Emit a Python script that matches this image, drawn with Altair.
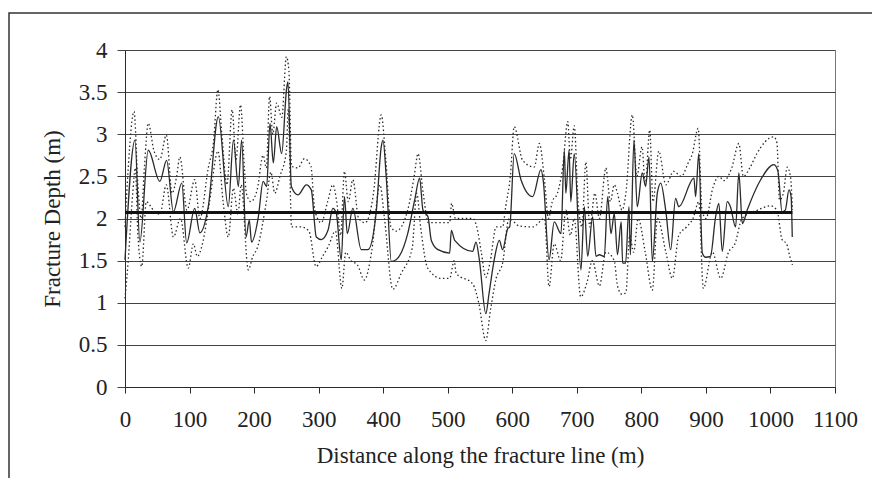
import altair as alt
import pandas as pd

# Mean fracture depth (solid line)
solid_x = [0, 15.5, 23, 36, 54, 64.5, 75, 88, 95.5, 108, 116, 129, 144.6, 160, 168, 175.6, 180.7, 187.5, 192.6, 196,
           206.6, 214, 219.5, 224.6, 229.8, 235, 242.7, 250.5, 252.5, 257.7, 268, 281, 288.6, 296.4, 304, 314.5, 322,
           327.4, 335, 340, 344.4, 353, 366, 376.5, 389, 397, 399.7, 405, 412.6, 420, 438, 448.8, 456.5, 461.6, 469.4,
           474.6, 485, 503, 505.6, 510.8, 538.6, 543.8, 549, 559, 564, 572, 580, 585, 593, 596, 603, 613.5, 631.6,
           644.5, 648, 657, 665, 675.5, 680.6, 683, 688, 690.7, 696, 706.4, 711.6, 716.8, 724.5, 729.7, 734.8, 742.6,
           747.8, 753, 758, 763, 768.7, 771, 775.6, 780.8, 783, 788.5, 793.6, 801.4, 806.6, 811.8, 817, 824.7, 830,
           837.7, 845.4, 853, 858, 881.5, 884, 889, 894.4, 899.6, 907, 915, 920, 925.4, 933, 938, 946, 951, 956.5, 964,
           984.8, 1005.4, 1011.6, 1018, 1023, 1028.7, 1032, 1033.8]
solid_y = [1.51, 2.93, 1.72, 2.81, 2.44, 2.69, 2.08, 2.42, 1.71, 2.12, 1.83, 2.14, 3.21, 2.14, 2.93, 2.38, 2.93, 1.78,
           1.98, 1.72, 2.02, 2.44, 2.38, 3.13, 2.66, 3.09, 2.77, 3.55, 3.62, 2.38, 2.28, 2.40, 2.34, 1.78, 1.75, 1.86,
           2.12, 2.06, 1.51, 2.26, 1.82, 2.12, 1.63, 1.63, 2.06, 2.85, 2.93, 2.46, 1.49, 1.51, 1.82, 2.22, 2.48, 2.10,
           2.02, 1.74, 1.63, 1.59, 1.86, 1.74, 1.61, 1.72, 1.51, 0.87, 1.11, 1.51, 1.74, 1.63, 1.88, 1.90, 2.77, 2.46,
           2.26, 2.58, 2.45, 1.51, 1.96, 1.82, 2.81, 2.30, 2.81, 2.20, 2.77, 1.39, 2.14, 1.55, 2.02, 1.55, 1.57, 1.55,
           2.26, 1.82, 2.06, 1.57, 1.96, 1.47, 1.47, 2.14, 1.57, 2.93, 2.14, 2.54, 2.38, 2.73, 1.49, 2.30, 2.42, 2.10,
           1.63, 2.24, 2.14, 2.48, 2.26, 2.77, 1.59, 1.54, 1.55, 2.02, 2.18, 1.61, 2.20, 2.14, 1.90, 2.54, 1.94, 2.10,
           2.46, 2.64, 2.56, 2.08, 2.10, 2.34, 2.26, 1.78]

# Upper bound (dotted)
upper_x = [0, 5, 14, 20, 25, 30, 36, 45, 54, 64, 73, 80, 85, 96, 108, 116, 129, 137, 144, 150, 158, 166, 172, 179, 185,
           188, 195, 205, 214, 219, 224, 229, 235, 243, 250, 254, 258, 268, 278, 288, 294, 304, 314, 322, 328, 334, 340,
           346, 353, 362, 372, 385, 397, 404, 412, 420, 438, 448, 454, 462, 470, 485, 503, 506, 512, 539, 545, 552, 559,
           566, 575, 585, 590, 597, 603, 616, 634, 642, 650, 656, 662, 670, 678, 686, 690, 696, 702, 708, 714, 720, 728,
           735, 745, 752, 758, 763, 770, 776, 786, 793, 801, 806, 813, 818, 827, 838, 850, 862, 872, 879, 888, 894, 900,
           911, 920, 928, 940, 951, 958, 968, 979, 1005, 1010, 1014, 1020, 1026, 1031, 1034]
upper_y = [1.9, 2.6, 3.27, 2.4, 2.0, 2.6, 3.13, 2.8, 2.7, 2.99, 2.3, 2.5, 2.73, 2.1, 2.46, 2.0, 2.6, 2.9, 3.53, 3.0,
           2.4, 3.29, 2.7, 3.35, 2.6, 2.3, 2.2, 2.35, 2.75, 2.6, 3.45, 3.0, 3.37, 3.2, 3.92, 3.75, 2.62, 2.6, 2.71, 2.62,
           2.1, 1.95, 2.2, 2.4, 2.2, 1.8, 2.56, 2.2, 2.46, 2.0, 1.95, 2.3, 3.23, 2.7, 1.9, 1.85, 2.1, 2.5, 2.77, 2.3,
           1.95, 1.95, 1.95, 2.18, 2.0, 2.0, 1.9, 1.6, 1.3, 1.5, 1.9, 1.9, 2.15, 2.5, 3.09, 2.69, 2.61, 2.89, 2.45, 2.0,
           2.2, 2.3, 2.6, 3.15, 2.7, 3.1, 2.2, 1.9, 2.67, 1.9, 2.3, 2.0, 2.6, 2.2, 2.4, 2.3, 2.1, 2.3, 3.23, 2.5, 2.85,
           2.4, 3.05, 2.2, 2.8, 2.4, 2.56, 2.5, 2.65, 2.77, 3.07, 2.1, 2.0, 2.37, 2.5, 2.45, 2.6, 2.89, 2.5, 2.6, 2.77,
           2.97, 2.9, 2.22, 2.3, 2.61, 2.5, 2.1]

# Lower bound (dotted)
lower_x = [0, 5, 12, 16, 20, 26, 33, 44, 54, 64, 75, 86, 98, 106, 112, 120, 131, 144, 152, 160, 168, 175, 180, 191,
           198, 205, 219, 226, 232, 240, 250, 253, 258, 273, 285, 296, 306, 315, 326, 336, 342, 350, 360, 371, 382, 395,
           402, 415, 428, 445, 452, 458, 469, 490, 503, 510, 513, 539, 548, 559, 566, 575, 585, 595, 611, 632, 650, 657,
           665, 675, 683, 690, 696, 706, 716, 724, 735, 745, 758, 763, 770, 776, 782, 788, 795, 806, 817, 825, 838, 848,
           858, 870, 880, 889, 896, 910, 923, 935, 945, 956, 980, 1000, 1010, 1018, 1025, 1030, 1034]
lower_y = [1.05, 1.5, 2.3, 2.6, 1.8, 1.43, 2.2, 2.1, 2.05, 2.4, 1.78, 2.0, 1.41, 1.7, 1.55, 1.7, 2.2, 2.8, 2.2, 1.78,
           2.36, 2.05, 2.4, 1.39, 1.55, 1.65, 2.2, 2.55, 2.3, 2.5, 2.8, 3.3, 1.9, 1.9, 1.85, 1.43, 1.55, 1.67, 1.85,
           1.17, 1.6, 1.5, 1.45, 1.27, 1.6, 2.4, 2.0, 1.16, 1.35, 1.65, 2.3, 1.9, 1.41, 1.29, 1.29, 1.5, 1.35, 1.22,
           1.0, 0.55, 0.9, 1.29, 1.47, 2.0, 1.91, 1.9, 2.0, 1.19, 1.7, 1.5, 2.1, 1.8, 2.0, 1.07, 1.25, 1.5, 1.2, 1.6,
           1.5, 1.2, 1.1, 1.12, 1.8, 1.6, 2.0, 1.6, 1.15, 2.0, 1.6, 1.29, 1.8, 1.9, 2.0, 2.2, 1.17, 1.6, 1.29, 1.6, 1.7,
           2.0, 2.1, 2.15, 2.1, 1.75, 1.7, 1.55, 1.45]

# Overall mean depth (thick horizontal line)
mean_depth = [2.07]
mean_start = [0]
mean_end = [1034]

x_ticks = list(range(0, 1101, 100))
y_ticks = [0, 0.5, 1, 1.5, 2, 2.5, 3, 3.5, 4]

FONT = "Liberation Serif"
INK = "#2a2a2a"

solid_df = pd.DataFrame({"x": solid_x, "y": solid_y})
upper_df = pd.DataFrame({"x": upper_x, "y": upper_y})
lower_df = pd.DataFrame({"x": lower_x, "y": lower_y})
mean_df = pd.DataFrame({"x": mean_start, "x2": mean_end, "y": mean_depth})

xs = alt.Scale(domain=[0, 1100], nice=False, zero=False)
ys = alt.Scale(domain=[0, 4], nice=False, zero=False)

x_axis = alt.Axis(values=x_ticks, format="d", labelOverlap=False, labelFlush=False, grid=False, domain=True,
                  domainColor=INK, ticks=True, tickSize=6, tickColor=INK, labelFont=FONT, labelFontSize=23,
                  labelColor="#222", labelPadding=15, title="Distance along the fracture line (m)", titleFont=FONT,
                  titleFontSize=23, titleFontWeight="normal", titleColor="#222", titlePadding=13)
y_axis = alt.Axis(values=y_ticks, format="~g", labelOverlap=False, labelFlush=False, grid=True, gridColor="#444",
                  gridWidth=1, domain=True, domainColor=INK, ticks=True, tickSize=8, tickColor="#444",
                  labelFont=FONT, labelFontSize=23, labelColor="#222", labelPadding=10,
                  title="Fracture Depth (m)", titleFont=FONT, titleFontSize=23, titleFontWeight="normal",
                  titleColor="#222", titlePadding=14)

upper = alt.Chart(upper_df).mark_line(interpolate="monotone", color=INK, strokeWidth=1.3,
                                      strokeDash=[1.5, 2.5]).encode(
    x=alt.X("x:Q", scale=xs, axis=x_axis), y=alt.Y("y:Q", scale=ys, axis=y_axis))
lower = alt.Chart(lower_df).mark_line(interpolate="monotone", color=INK, strokeWidth=1.3,
                                      strokeDash=[1.5, 2.5]).encode(
    x=alt.X("x:Q", scale=xs), y=alt.Y("y:Q", scale=ys))
solid = alt.Chart(solid_df).mark_line(interpolate="monotone", color=INK, strokeWidth=1.3).encode(
    x=alt.X("x:Q", scale=xs), y=alt.Y("y:Q", scale=ys))
mean = alt.Chart(mean_df).mark_rule(color="#111", strokeWidth=3).encode(
    x=alt.X("x:Q", scale=xs), x2="x2:Q", y=alt.Y("y:Q", scale=ys))
frame = alt.Chart(alt.Data(values=[{"a": 1}])).mark_rect(
    fillOpacity=0, stroke="#333", strokeWidth=1.5).encode(
    x=alt.value(-116), x2=alt.value(800), y=alt.value(-37), y2=alt.value(520))

chart = alt.layer(frame, upper, lower, solid, mean).properties(
    width=710, height=337,
    autosize=alt.AutoSizeParams(type="none"),
    padding={"left": 117, "top": 42, "right": 37, "bottom": 91},
    background="white",
).configure_view(stroke="#777", strokeWidth=1)

chart.save("out.html", embed_options={"renderer": "svg", "actions": False})
